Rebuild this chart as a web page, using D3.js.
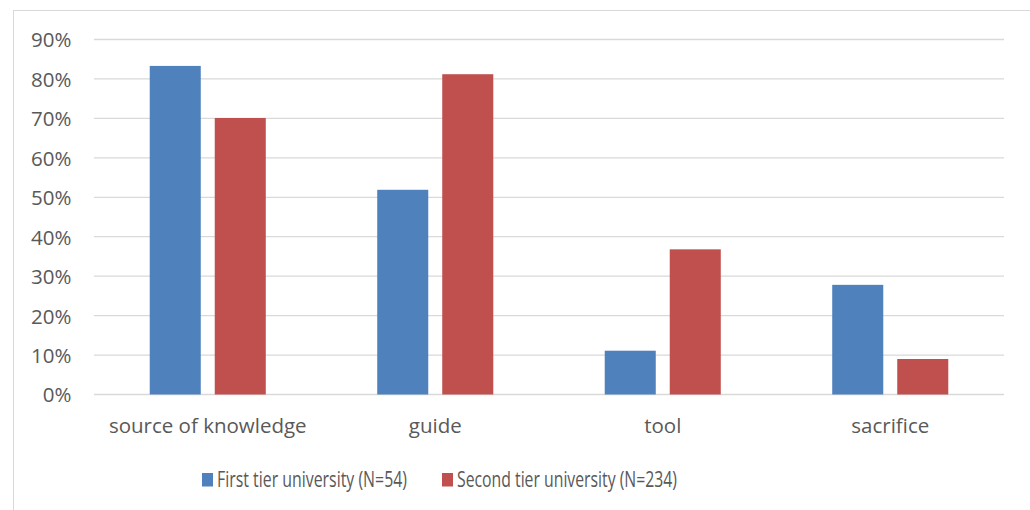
<!DOCTYPE html>
<html>
<head>
<meta charset="utf-8">
<script src="https://cdn.jsdelivr.net/npm/d3@7"></script>
<style>
  html, body { margin: 0; padding: 0; background: #fff; }
  svg { display: block; }
  text { font-family: "Open Sans", sans-serif; fill: #595959; }
</style>
</head>
<body>
<svg id="chart" width="1030" height="510"></svg>
<script>
// Categories and shares per university tier
const categories = ["source of knowledge", "guide", "tool", "sacrifice"];
const seriesNames = ["First tier university (N=54)", "Second tier university (N=234)"];
const firstTier = [0.833, 0.519, 0.111, 0.278];
const secondTier = [0.701, 0.812, 0.368, 0.09];
const yTicks = [0, 0.1, 0.2, 0.3, 0.4, 0.5, 0.6, 0.7, 0.8, 0.9];
const colors = ["#4f81bd", "#c0504d"];

const rows = categories.map((c, i) => ({
  category: c,
  values: [firstTier[i], secondTier[i]]
}));

const svg = d3.select("#chart");
const W = 1030, H = 510;
const FONT = 20.5;

// Chart area frame
svg.append("rect")
  .attr("x", 13.5).attr("y", 10.5)
  .attr("width", W).attr("height", H)
  .attr("fill", "#fff")
  .attr("stroke", "#d9d9d9").attr("stroke-width", 1);

const plot = { left: 94, right: 1004, top: 39.5, bottom: 394.5 };

const x0 = d3.scaleBand()
  .domain(categories)
  .range([plot.left, plot.right])
  .padding(0);

const x1 = d3.scaleBand()
  .domain(d3.range(seriesNames.length))
  .range([0, x0.bandwidth()])
  .paddingInner(0.215)
  .paddingOuter(0.857);

const y = d3.scaleLinear()
  .domain([0, 0.9])
  .range([plot.bottom, plot.top]);

// Horizontal gridlines
svg.append("g")
  .selectAll("line")
  .data(yTicks)
  .join("line")
  .attr("x1", plot.left).attr("x2", plot.right)
  .attr("y1", d => y(d)).attr("y2", d => y(d))
  .attr("stroke", "#d9d9d9").attr("stroke-width", 1.3);

// Y axis labels
const yAxis = d3.axisLeft(y)
  .tickValues(yTicks)
  .tickFormat(d3.format(".0%"))
  .tickSize(0)
  .tickPadding(0);
const yG = svg.append("g")
  .attr("transform", `translate(71.5,0)`)
  .call(yAxis);
yG.select(".domain").remove();
yG.selectAll("text")
  .attr("font-size", FONT)
  .attr("font-family", "'Open Sans', sans-serif")
  .attr("fill", "#595959")
  .attr("dy", "0.36em");

// Bars
const groups = svg.append("g")
  .selectAll("g")
  .data(rows)
  .join("g")
  .attr("transform", d => `translate(${x0(d.category)},0)`);

groups.selectAll("rect")
  .data(d => d.values.map((v, i) => ({ v, i })))
  .join("rect")
  .attr("x", d => x1(d.i))
  .attr("width", x1.bandwidth())
  .attr("y", d => y(d.v))
  .attr("height", d => y(0) - y(d.v))
  .attr("fill", d => colors[d.i]);

// Category axis labels
const xAxis = d3.axisBottom(x0).tickSize(0).tickPadding(0);
const xG = svg.append("g")
  .attr("transform", `translate(0,${plot.bottom})`)
  .call(xAxis);
xG.select(".domain").remove();
xG.selectAll("text")
  .attr("font-size", FONT)
  .attr("font-family", "'Open Sans', sans-serif")
  .attr("fill", "#595959")
  .attr("dy", 0)
  .attr("y", 38.5);

// Legend (condensed entries)
const legendX = [202, 442];
const legendTextWidth = [190, 220];
const legend = svg.append("g")
  .selectAll("g")
  .data(seriesNames)
  .join("g")
  .attr("transform", (d, i) => `translate(${legendX[i]},473)`);
legend.append("rect")
  .attr("width", 11).attr("height", 13.5)
  .attr("fill", (d, i) => colors[i]);
legend.append("text")
  .attr("x", 15).attr("y", 13.8)
  .attr("font-size", 22)
  .attr("textLength", (d, i) => legendTextWidth[i])
  .attr("lengthAdjust", "spacingAndGlyphs")
  .text(d => d);
</script>
</body>
</html>
